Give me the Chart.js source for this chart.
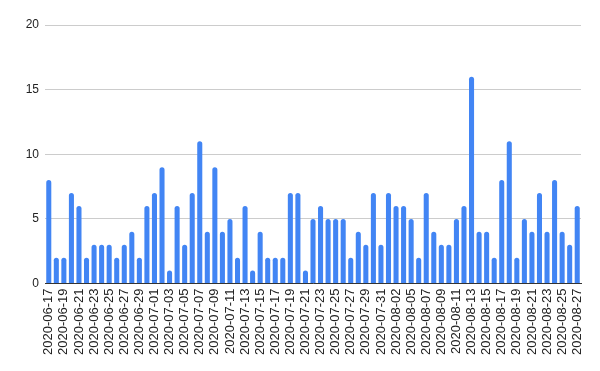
<!DOCTYPE html>
<html>
<head>
<meta charset="utf-8">
<script src="https://cdn.jsdelivr.net/npm/chart.js@4/dist/chart.umd.min.js"></script>
<style>
  html, body { margin: 0; padding: 0; background: #fff; }
  canvas { display: block; }
</style>
</head>
<body>
<canvas id="chart" width="600" height="371"></canvas>
<script>
// datas (uma faltando em agosto: 08-04 sem registro)
const dias = [
  '2020-06-17', '2020-06-18', '2020-06-19', '2020-06-20', '2020-06-21', '2020-06-22',
  '2020-06-23', '2020-06-24', '2020-06-25', '2020-06-26', '2020-06-27', '2020-06-28',
  '2020-06-29', '2020-06-30', '2020-07-01', '2020-07-02', '2020-07-03', '2020-07-04',
  '2020-07-05', '2020-07-06', '2020-07-07', '2020-07-08', '2020-07-09', '2020-07-10',
  '2020-07-11', '2020-07-12', '2020-07-13', '2020-07-14', '2020-07-15', '2020-07-16',
  '2020-07-17', '2020-07-18', '2020-07-19', '2020-07-20', '2020-07-21', '2020-07-22',
  '2020-07-23', '2020-07-24', '2020-07-25', '2020-07-26', '2020-07-27', '2020-07-28',
  '2020-07-29', '2020-07-30', '2020-07-31', '2020-08-01', '2020-08-02', '2020-08-03',
  '2020-08-05', '2020-08-06', '2020-08-07', '2020-08-08', '2020-08-09', '2020-08-10',
  '2020-08-11', '2020-08-12', '2020-08-13', '2020-08-14', '2020-08-15', '2020-08-16',
  '2020-08-17', '2020-08-18', '2020-08-19', '2020-08-20', '2020-08-21', '2020-08-22',
  '2020-08-23', '2020-08-24', '2020-08-25', '2020-08-26', '2020-08-27',
];

const contagens = [
  8, 2, 2, 7, 6, 2, 3, 3, 3, 2, 3, 4,
  2, 6, 7, 9, 1, 6, 3, 7, 11, 4, 9, 4,
  5, 2, 6, 1, 4, 2, 2, 2, 7, 7, 1, 5,
  6, 5, 5, 5, 2, 4, 3, 7, 3, 7, 6, 6,
  5, 2, 7, 4, 3, 3, 5, 6, 16, 4, 4, 2,
  8, 11, 2, 5, 4, 7, 4, 8, 4, 3, 6,
];

const yTicks = [0, 5, 10, 15, 20];

const Chart = window.Chart;
Chart.defaults.font.family = '"Liberation Sans", Arial, sans-serif';
Chart.defaults.color = '#222';

new Chart(document.getElementById('chart'), {
  type: 'bar',
  data: {
    labels: dias,
    datasets: [{
      data: contagens,
      backgroundColor: '#4285f4',
      borderRadius: { topLeft: 3, topRight: 3 },
      borderSkipped: 'bottom',
      categoryPercentage: 0.67,
      barPercentage: 1,
    }],
  },
  options: {
    responsive: false,
    animation: false,
    layout: { padding: { left: 0, right: 19, top: 25, bottom: 11 } },
    plugins: { legend: { display: false }, tooltip: { enabled: false } },
    scales: {
      x: {
        grid: { display: false, drawTicks: false },
        border: { color: '#333', width: 1 },
        ticks: {
          autoSkip: false,
          minRotation: 90,
          maxRotation: 90,
          padding: 5,
          font: { size: 13 },
          callback(v, i) { return i % 2 === 0 ? dias[i] : ''; },
        },
      },
      y: {
        min: yTicks[0],
        max: yTicks[yTicks.length - 1],
        afterBuildTicks(axis) { axis.ticks = yTicks.map((v) => ({ value: v })); },
        afterFit(axis) { axis.width = 45; },
        grid: { color: '#cccccc', drawTicks: false },
        border: { display: false },
        ticks: { autoSkip: false, padding: 6, font: { size: 12 } },
      },
    },
  },
});
</script>
</body>
</html>
